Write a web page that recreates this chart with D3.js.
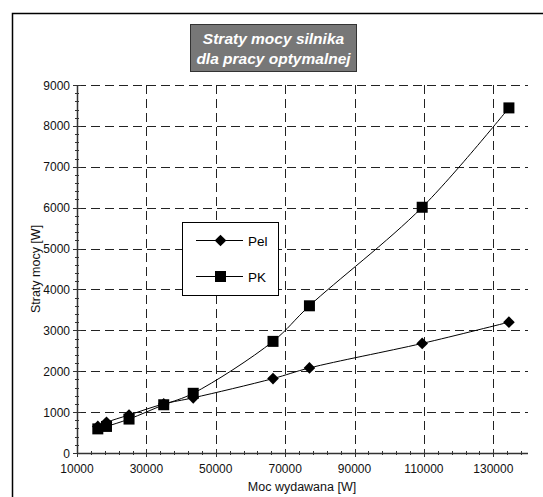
<!DOCTYPE html>
<html><head><meta charset="utf-8">
<script src="https://cdn.jsdelivr.net/npm/d3@7"></script>
<style>body{margin:0;background:#fff}svg{display:block}</style>
</head><body>
<script>
const xValues = [16000, 18500, 25000, 35000, 43500, 66500, 77000, 109500, 134500];
const pelValues = [650, 750, 930, 1200, 1350, 1820, 2080, 2680, 3200];
const pkValues = [590, 650, 830, 1180, 1460, 2730, 3600, 6010, 8440];
const xTicks = [10000, 30000, 50000, 70000, 90000, 110000, 130000];
const yTicks = [0, 1000, 2000, 3000, 4000, 5000, 6000, 7000, 8000, 9000];
const titleLines = ["Straty mocy silnika", "dla pracy optymalnej"];
const seriesNames = ["Pel", "PK"];

const W = 543, H = 497;
const svg = d3.select("body").append("svg").attr("width", W).attr("height", H);
const font = "'Liberation Sans', Arial, sans-serif";

// outer frame
svg.append("rect").attr("x", 12.5).attr("y", 13.5).attr("width", 560).attr("height", 520)
  .attr("fill", "none").attr("stroke", "#000").attr("stroke-width", 1.5);

const x = d3.scaleLinear().domain([10000, 140000]).range([77, 528]);
const y = d3.scaleLinear().domain([0, 9000]).range([453, 85]);

// grid
const grid = svg.append("g").attr("stroke", "#222").attr("stroke-dasharray", "9,5").attr("stroke-width", 1);
yTicks.filter(d => d > 0).forEach(d => {
  grid.append("line").attr("x1", x(10000)).attr("x2", x(140000))
    .attr("y1", Math.round(y(d)) + 0.5).attr("y2", Math.round(y(d)) + 0.5);
});
xTicks.filter(d => d > 10000).forEach(d => {
  grid.append("line").attr("y1", y(9000)).attr("y2", y(0))
    .attr("x1", Math.round(x(d)) + 0.5).attr("x2", Math.round(x(d)) + 0.5);
});

// axes
const axes = svg.append("g").attr("stroke", "#333").attr("stroke-width", 1);
axes.append("line").attr("x1", x(10000)).attr("x2", x(140000)).attr("y1", Math.round(y(0)) + 0.5).attr("y2", Math.round(y(0)) + 0.5).attr("stroke-width", 1.5);
axes.append("line").attr("y1", y(0)).attr("y2", y(9000)).attr("x1", Math.round(x(10000)) + 0.5).attr("x2", Math.round(x(10000)) + 0.5).attr("stroke-width", 1.5);
d3.range(10000, 140001, 4000).forEach(d => {
  const major = xTicks.includes(d);
  axes.append("line").attr("x1", Math.round(x(d)) + 0.5).attr("x2", Math.round(x(d)) + 0.5)
    .attr("y1", y(0) - (major ? 4 : 2)).attr("y2", y(0) + (major ? 4 : 2));
});
d3.range(0, 9001, 200).forEach(d => {
  const major = d % 1000 === 0;
  axes.append("line").attr("y1", Math.round(y(d)) + 0.5).attr("y2", Math.round(y(d)) + 0.5)
    .attr("x1", x(10000) - (major ? 4 : 2)).attr("x2", x(10000) + (major ? 4 : 2));
});

// tick labels
svg.append("g").selectAll("text").data(xTicks).join("text")
  .attr("x", d => x(d)).attr("y", y(0) + 20).attr("text-anchor", "middle")
  .attr("font-family", font).attr("font-size", 12).attr("fill", "#111").text(d => d);
svg.append("g").selectAll("text").data(yTicks).join("text")
  .attr("x", x(10000) - 7).attr("y", d => y(d) + 4.5).attr("text-anchor", "end")
  .attr("font-family", font).attr("font-size", 12).attr("fill", "#111").text(d => d);

svg.append("text").attr("x", 302).attr("y", 491).attr("text-anchor", "middle")
  .attr("font-family", font).attr("font-size", 12.5).attr("fill", "#111").text("Moc wydawana [W]");
svg.append("text").attr("transform", "translate(40,269) rotate(-90)").attr("text-anchor", "middle")
  .attr("font-family", font).attr("font-size", 12.5).attr("fill", "#111").text("Straty mocy [W]");

// series
const line = d3.line().x(d => x(d[0])).y(d => y(d[1])).curve(d3.curveCatmullRom.alpha(0.5));
const pel = xValues.map((v, i) => [v, pelValues[i]]);
const pk = xValues.map((v, i) => [v, pkValues[i]]);
svg.append("path").attr("d", line(pel)).attr("fill", "none").attr("stroke", "#000").attr("stroke-width", 1);
svg.append("path").attr("d", line(pk)).attr("fill", "none").attr("stroke", "#000").attr("stroke-width", 1);
const diamond = d3.symbol().type(d3.symbolSquare).size(68);
svg.append("g").selectAll("path").data(pel).join("path")
  .attr("transform", d => `translate(${x(d[0])},${y(d[1])}) rotate(45)`)
  .attr("d", diamond).attr("fill", "#000");
svg.append("g").selectAll("rect").data(pk).join("rect")
  .attr("x", d => x(d[0]) - 5.5).attr("y", d => y(d[1]) - 5.5).attr("width", 11).attr("height", 11).attr("fill", "#000");

// legend
const lg = svg.append("g");
lg.append("rect").attr("x", 182.5).attr("y", 222.5).attr("width", 96).attr("height", 73)
  .attr("fill", "#fff").attr("stroke", "#000").attr("stroke-width", 1);
[240.5, 276.5].forEach((ly, i) => {
  lg.append("line").attr("x1", 196).attr("x2", 243).attr("y1", ly).attr("y2", ly).attr("stroke", "#000");
  if (i === 0) {
    lg.append("path").attr("transform", `translate(220.5,${ly}) rotate(45)`).attr("d", diamond).attr("fill", "#000");
  } else {
    lg.append("rect").attr("x", 215).attr("y", ly - 5.5).attr("width", 11).attr("height", 11).attr("fill", "#000");
  }
  lg.append("text").attr("x", 248).attr("y", ly + 5).attr("font-family", font).attr("font-size", 13.5)
    .attr("fill", "#000").text(seriesNames[i]);
});

// title
const tg = svg.append("g");
tg.append("rect").attr("x", 190.5).attr("y", 24.5).attr("width", 166).attr("height", 47)
  .attr("fill", "#777").attr("stroke", "#333").attr("stroke-width", 1);
titleLines.forEach((t, i) => {
  tg.append("text").attr("x", 273.5).attr("y", 44 + i * 20).attr("text-anchor", "middle")
    .attr("font-family", font).attr("font-size", 15.5).attr("font-weight", "bold").attr("font-style", "italic")
    .attr("fill", "#fff").text(t);
});
</script>
</body></html>
